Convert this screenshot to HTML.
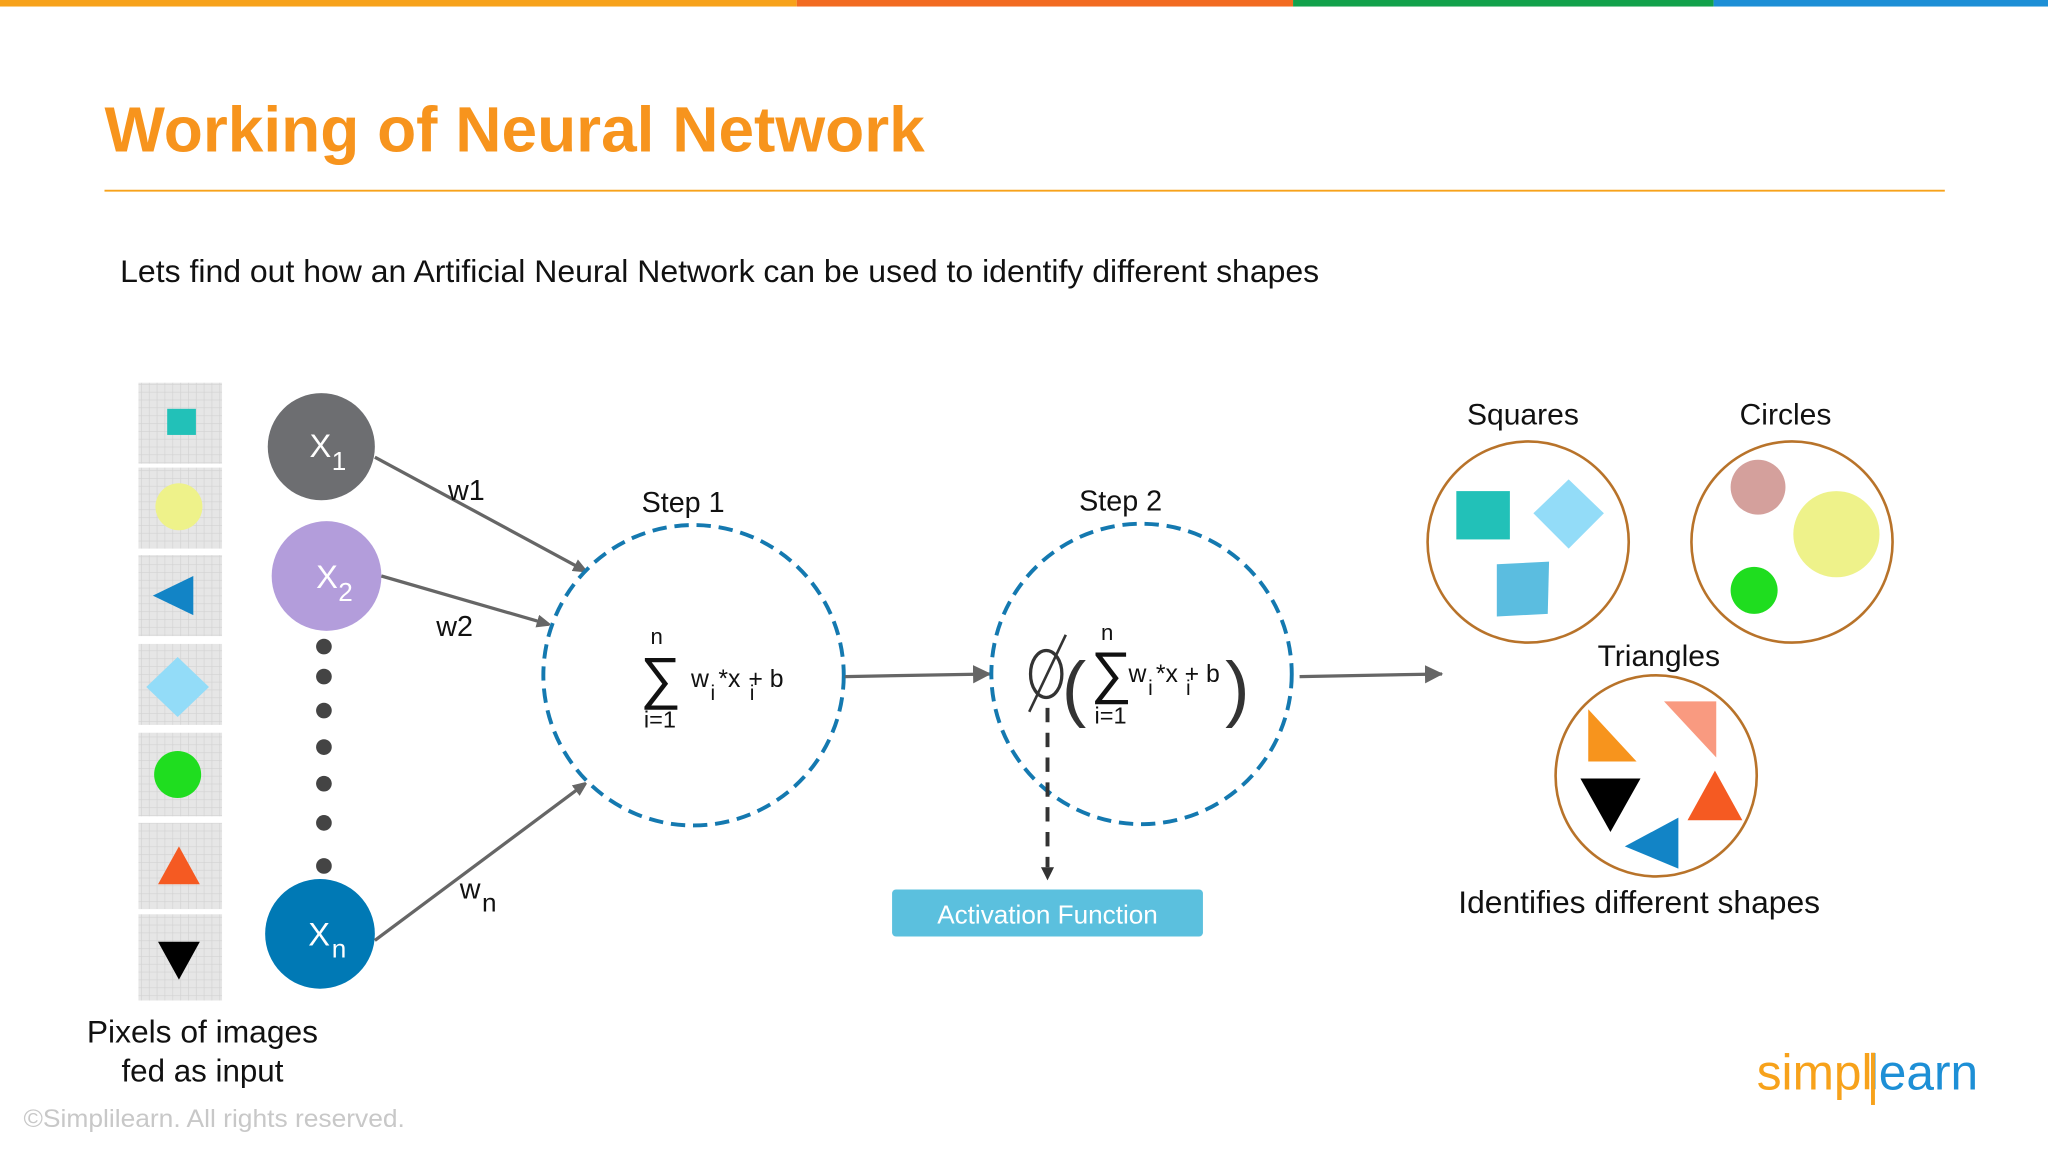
<!DOCTYPE html>
<html><head><meta charset="utf-8"><style>
html,body{margin:0;padding:0;background:#fff;}
svg{display:block;}
text{font-family:"Liberation Sans",Arial,sans-serif;}
</style></head><body>
<svg width="2048" height="1152" viewBox="0 0 1568 882" preserveAspectRatio="none" xmlns="http://www.w3.org/2000/svg">
<defs>
<marker id="ah" markerWidth="10" markerHeight="10" refX="9" refY="5" orient="auto" markerUnits="userSpaceOnUse"><path d="M0,0 L12,5 L0,10 z" fill="#666"/></marker>
<marker id="ah2" markerWidth="14" markerHeight="14" refX="13" refY="7" orient="auto" markerUnits="userSpaceOnUse"><path d="M0,0 L14,7 L0,14 z" fill="#666"/></marker>
<pattern id="grid" width="6" height="6" patternUnits="userSpaceOnUse"><rect width="6" height="6" fill="#e6e6e6"/><path d="M0,0H6M0,0V6" stroke="#d2d2d2" stroke-width="1"/></pattern>
</defs>
<rect width="1568" height="882" fill="#fff"/>
<rect x="0" y="0" width="610" height="5" fill="#f7a21b"/>
<rect x="610" y="0" width="380" height="5" fill="#f26b21"/>
<rect x="990" y="0" width="322" height="5" fill="#12a14b"/>
<rect x="1312" y="0" width="256" height="5" fill="#1d8fd6"/>
<text x="80" y="116" font-size="49" font-weight="bold" fill="#f7941d">Working of Neural Network</text>
<line x1="80" y1="146" x2="1489" y2="146" stroke="#f7a21b" stroke-width="1.5"/>
<text x="92" y="216" font-size="24" fill="#111" textLength="918" lengthAdjust="spacingAndGlyphs">Lets find out how an Artificial Neural Network can be used to identify different shapes</text>

<g fill="url(#grid)">
<rect x="106" y="293" width="64" height="62"/><rect x="106" y="358" width="64" height="62"/>
<rect x="106" y="425" width="64" height="62"/><rect x="106" y="493" width="64" height="62"/>
<rect x="106" y="561" width="64" height="64"/><rect x="106" y="630" width="64" height="66"/>
<rect x="106" y="700" width="64" height="66"/>
</g>
<rect x="128" y="313" width="22" height="20" fill="#22c1b8"/>
<circle cx="137" cy="388" r="18" fill="#eef28a"/>
<polygon points="117,456 148,441 148,471" fill="#1284c6"/>
<polygon points="136,503 160,526 136,549 112,526" fill="#93dcf8"/>
<circle cx="136" cy="593" r="18" fill="#1fdd1f"/>
<polygon points="137,648 153,677 121,677" fill="#f55a22"/>
<polygon points="121,721 153,721 137,750" fill="#000"/>
<text x="155" y="798" font-size="24" text-anchor="middle" fill="#111" textLength="177" lengthAdjust="spacingAndGlyphs">Pixels of images</text>
<text x="155" y="828" font-size="24" text-anchor="middle" fill="#111">fed as input</text>

<circle cx="246" cy="342" r="41" fill="#6d6e71"/>
<text x="237" y="350" font-size="25" fill="#fff">X</text><text x="254" y="360" font-size="20" fill="#fff">1</text>
<circle cx="250" cy="441" r="42" fill="#b39ddb"/>
<text x="242" y="450" font-size="25" fill="#fff">X</text><text x="259" y="460" font-size="20" fill="#fff">2</text>
<circle cx="245" cy="715" r="42" fill="#0079b5"/>
<text x="236" y="724" font-size="25" fill="#fff">X</text><text x="254" y="733" font-size="20" fill="#fff">n</text>
<g fill="#444"><circle cx="248" cy="495" r="6"/><circle cx="248" cy="518" r="6"/><circle cx="248" cy="544" r="6"/><circle cx="248" cy="572" r="6"/><circle cx="248" cy="600" r="6"/><circle cx="248" cy="630" r="6"/><circle cx="248" cy="663" r="6"/></g>
<g stroke="#666" stroke-width="2.5">
<line x1="287" y1="350" x2="448" y2="437" marker-end="url(#ah)"/>
<line x1="292" y1="441" x2="420" y2="478" marker-end="url(#ah)"/>
<line x1="287" y1="720" x2="448" y2="600" marker-end="url(#ah)"/>
</g>
<text x="343" y="383" font-size="22" fill="#111">w1</text>
<text x="334" y="487" font-size="22" fill="#111">w2</text>
<text x="352" y="688" font-size="22" fill="#111">w</text><text x="369" y="698" font-size="20" fill="#111">n</text>

<text x="523" y="392" font-size="22" text-anchor="middle" fill="#111">Step 1</text>
<circle cx="531" cy="517" r="115" fill="none" stroke="#1479b0" stroke-width="3" stroke-dasharray="11,6"/>
<text x="498" y="493" font-size="17" fill="#111">n</text>
<text x="490" y="534" font-size="44" fill="#111">∑</text>
<text x="493" y="557" font-size="18" fill="#111">i=1</text>
<text x="529" y="526" font-size="19" fill="#111">w</text><text x="544" y="536" font-size="16" fill="#111">i</text>
<text x="550" y="526" font-size="19" fill="#111">*x</text><text x="574" y="536" font-size="16" fill="#111">i</text>
<text x="573" y="526" font-size="19" fill="#111">+ b</text>

<line x1="647" y1="518" x2="758" y2="516" stroke="#666" stroke-width="2.5" marker-end="url(#ah2)"/>

<text x="858" y="391" font-size="22" text-anchor="middle" fill="#111">Step 2</text>
<circle cx="874" cy="516" r="115" fill="none" stroke="#1479b0" stroke-width="3" stroke-dasharray="11,6"/>
<ellipse cx="801" cy="516" rx="12" ry="18" fill="none" stroke="#333" stroke-width="2.5"/>
<line x1="788" y1="545" x2="816" y2="486" stroke="#333" stroke-width="2"/>
<text x="813" y="546" font-size="56" fill="#333">(</text>
<text x="938" y="546" font-size="56" fill="#333">)</text>
<text x="843" y="490" font-size="17" fill="#111">n</text>
<text x="835" y="530" font-size="44" fill="#111">∑</text>
<text x="838" y="554" font-size="18" fill="#111">i=1</text>
<text x="864" y="522" font-size="19" fill="#111">w</text><text x="879" y="532" font-size="16" fill="#111">i</text>
<text x="885" y="522" font-size="19" fill="#111">*x</text><text x="908" y="532" font-size="16" fill="#111">i</text>
<text x="907" y="522" font-size="19" fill="#111">+ b</text>
<line x1="802" y1="542" x2="802" y2="664" stroke="#333" stroke-width="3" stroke-dasharray="11,8"/>
<polygon points="797,664 807,664 802,674" fill="#333"/>
<rect x="683" y="681" width="238" height="36" rx="3" fill="#5bc0de"/>
<text x="802" y="707" font-size="20" text-anchor="middle" fill="#fff">Activation Function</text>

<line x1="995" y1="518" x2="1104" y2="516" stroke="#666" stroke-width="2.5" marker-end="url(#ah2)"/>

<text x="1166" y="325" font-size="23" text-anchor="middle" fill="#111">Squares</text>
<circle cx="1170" cy="415" r="77" fill="none" stroke="#b8732a" stroke-width="2"/>
<rect x="1115" y="376" width="41" height="37" fill="#22c1b8"/>
<polygon points="1201,367 1228,393 1201,420 1174,393" fill="#93dcf8"/>
<polygon points="1146,432 1186,430 1185,470 1146,472" fill="#5bbde0"/>
<text x="1367" y="325" font-size="23" text-anchor="middle" fill="#111">Circles</text>
<circle cx="1372" cy="415" r="77" fill="none" stroke="#b8732a" stroke-width="2"/>
<circle cx="1346" cy="373" r="21" fill="#d4a09c"/>
<circle cx="1406" cy="409" r="33" fill="#eef28a"/>
<circle cx="1343" cy="452" r="18" fill="#1fdd1f"/>
<text x="1270" y="510" font-size="23" text-anchor="middle" fill="#111">Triangles</text>
<circle cx="1268" cy="594" r="77" fill="none" stroke="#b8732a" stroke-width="2"/>
<polygon points="1216,543 1253,583 1216,583" fill="#f7941d"/>
<polygon points="1274,537 1314,537 1314,580" fill="#f99a80"/>
<polygon points="1210,596 1256,596 1233,637" fill="#000"/>
<polygon points="1313,590 1334,628 1292,628" fill="#f55a22"/>
<polygon points="1285,626 1285,665 1244,648" fill="#1284c6"/>
<text x="1255" y="699" font-size="24" text-anchor="middle" fill="#111" textLength="277" lengthAdjust="spacingAndGlyphs">Identifies different shapes</text>

<text x="18" y="863" font-size="19" fill="#c8c8c8" textLength="292" lengthAdjust="spacingAndGlyphs">©Simplilearn. All rights reserved.</text>
<text x="1345" y="834" font-size="38" fill="#f7a21b">simpl</text>
<text x="1430" y="834" font-size="38" fill="#1d8fd6">learn</text>
<line x1="1434" y1="806" x2="1434" y2="846" stroke="#f7a21b" stroke-width="3"/>
</svg>
</body></html>
